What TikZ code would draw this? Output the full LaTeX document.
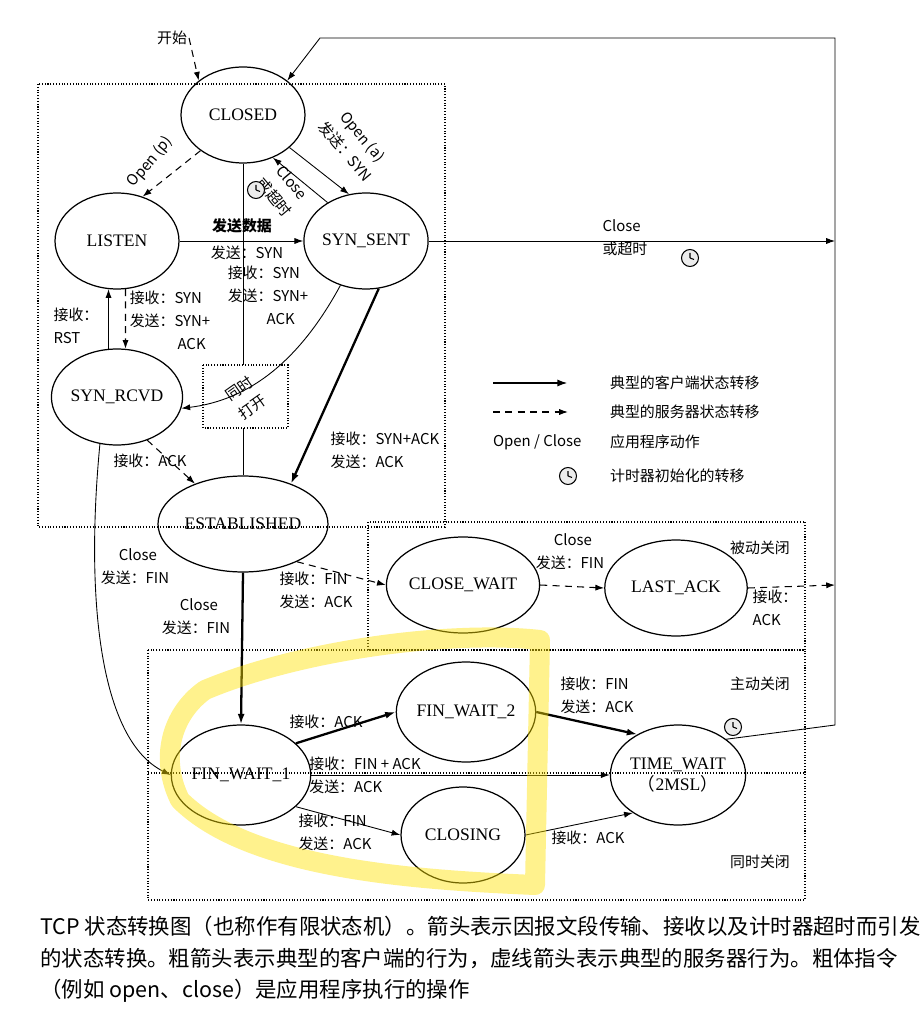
\documentclass[tikz,border=0pt]{standalone}
\usepackage{fontspec}
\setmainfont{Liberation Serif}
\newfontfamily\cjk{Noto Sans CJK SC}
\XeTeXlinebreaklocale "zh"
\XeTeXlinebreakskip=0pt plus 1pt
\usetikzlibrary{shapes.geometric, arrows.meta, positioning, calc}
\tikzset{
  state/.style={draw, ellipse, line width=0.7pt, minimum width=2.48cm, minimum height=1.92cm, inner sep=0pt, font=\fontsize{10}{12}\selectfont},
  lbl/.style={font=\cjk\fontsize{8.5}{13}\selectfont, align=left, inner sep=1pt},
  captxt/.style={font=\cjk\fontsize{12.2}{18}\selectfont, align=left, inner sep=0pt},
  thin/.style={-{Latex[length=5pt,width=3.5pt]}, line width=0.5pt},
  thick/.style={-{Latex[length=6pt,width=4pt]}, line width=1.3pt},
  dashy/.style={-{Latex[length=5pt,width=3.5pt]}, line width=0.6pt, dash pattern=on 4pt off 3pt},
  region/.style={densely dotted, line width=0.6pt},
  clock/.style={circle, draw, line width=0.6pt, minimum size=0.34cm, inner sep=0pt, fill=gray!15}
}
\newcommand{\clockhands}[1]{\draw[line width=0.6pt] (#1.center) -- ++(0,-5) (#1.center) -- ++(4,1.5);}
\begin{document}
\begin{tikzpicture}[x=0.02cm, y=-0.02cm]
  \useasboundingbox (0,0) rectangle (920,1016);

  % regions
  \draw[region] (38,84) rectangle (445,527);
  \draw[region] (203,365) rectangle (288,428);
  \draw[region] (368,522) rectangle (805,650);
  \draw[region] (148,650) rectangle (805,900);
  \draw[region] (148,773) -- (805,773);

  % states
  \node[state] (closed) at (243,115) {CLOSED};
  \node[state] (listen) at (117,241) {LISTEN};
  \node[state] (synsent) at (366,241) {SYN\_SENT};
  \node[state] (synrcvd) at (117,397) {SYN\_RCVD};
  \node[state, minimum width=3.4cm] (estab) at (243,524) {ESTABLISHED};
  \node[state, minimum width=2.8cm] (closewait) at (463,585) {CLOSE\_WAIT};
  \node[state, minimum width=2.85cm] (lastack) at (676,588) {LAST\_ACK};
  \node[state, minimum height=2cm] (fw2) at (466,712) {FIN\_WAIT\_2};
  \node[state, minimum height=2cm] (fw1) at (241,775) {FIN\_WAIT\_1};
  \node[state] (closing) at (463,835) {CLOSING};
  \node[state, minimum height=2cm, align=center] (timewait) at (678,775) {TIME\_WAIT\\{\cjk（}2MSL{\cjk）}};

  % helper points
  \coordinate (loopA) at (835,725);
  \coordinate (loopB) at (835,38);
  \coordinate (loopC) at (320,38);
  \coordinate (ssout) at (835,241);
  \coordinate (laout) at (835,585);
  \coordinate (boxtop) at (243,365);
  \coordinate (boxbot) at (243,428);

  % open part
  \node[lbl] (kaishi) at (172,38) {开始};
  \draw[dashy] (kaishi.east) -- (closed.north west);
  \draw[thin] (timewait.north east) -- (loopA) -- (loopB) -- (loopC) -- (closed.north east);
  \draw[line width=0.5pt] (closed.south) -- (boxtop);
  \draw[line width=0.5pt] (boxbot) -- (estab.north);
  \draw[dashy] (closed.220) -- (listen.60);
  \node[lbl, rotate=50] (openp) at (150,162) {Open (p)};
  \draw[thin] (closed.-35) -- (synsent.110);
  \node[lbl, rotate=-50, align=center] (opena) at (354,144) {Open (a)\\发送：SYN};
  \draw[thin] (synsent.135) -- (closed.-55);
  \node[lbl, rotate=-50, align=center] (closeto) at (283,190) {Close\\或超时};
  \node[clock] (clk1) at (256,190) {};
  \draw[thin] (listen.east) -- (synsent.west);
  \node[lbl] (fsdata) at (242,226) {\bfseries 发送数据};
  \node[lbl] (fssyn) at (247,253) {发送：SYN};
  \node[lbl] (rcvsyn) at (268,295) {接收：SYN\\发送：SYN+\\\hspace{2.6em}ACK};
  \draw[thin] (synsent.east) -- (ssout);
  \node[lbl] (closeto2) at (625,238) {Close\\或超时};
  \node[clock] (clk2) at (690,258) {};
  \draw[dashy] (listen.-80) -- (synrcvd.80);
  \draw[thin] (synrcvd.100) -- (listen.-100);
  \node[lbl] (rcvrst) at (76,326) {接收：\\RST};
  \node[lbl] (rcvsyn2) at (170,320) {接收：SYN\\发送：SYN+\\\hspace{3.2em}ACK};
  \draw[thin] (synsent.-120) .. controls (300,360) and (250,400) .. (synrcvd.-10);
  \node[lbl, rotate=35, align=center] (simopen) at (246,398) {同时\\打开};
  \draw[thick] (synsent.-75) -- (estab.40);
  \node[lbl] (synack) at (385,450) {接收：SYN+ACK\\发送：ACK};
  \draw[dashy] (synrcvd.-55) -- (estab.140);
  \node[lbl] (rcvack) at (150,461) {接收：ACK};

  % close part
  \draw[thin] (synrcvd.-110) .. controls (85,600) and (100,740) .. (fw1.west);
  \node[lbl] (closefin) at (135,567) {\hspace{1.2em}Close\\发送：FIN};
  \draw[thick] (estab.south) -- (fw1.north);
  \node[lbl] (closefin2) at (196,617) {\hspace{1.2em}Close\\发送：FIN};
  \draw[dashy] (estab.-35) -- (closewait.west);
  \node[lbl] (rcvfin) at (316,590) {接收：FIN\\发送：ACK};
  \draw[dashy] (closewait.east) -- (lastack.west);
  \node[lbl] (closefin3) at (570,552) {\hspace{1.2em}Close\\发送：FIN};
  \draw[dashy] (lastack.east) -- (laout);
  \node[lbl] (rcvack2) at (775,608) {接收：\\ACK};
  \node[lbl] (pclose) at (760,548) {被动关闭};
  \node[lbl] (aclose) at (760,684) {主动关闭};
  \node[lbl] (sclose) at (760,862) {同时关闭};
  \draw[thick] (fw1.30) -- (fw2.west);
  \node[lbl] (rcvack3) at (326,722) {接收：ACK};
  \draw[thin] (fw1.east) -- (timewait.west);
  \node[lbl] (finack) at (365,775) {接收：FIN + ACK\\发送：ACK};
  \draw[thin] (fw1.-30) -- (closing.west);
  \node[lbl] (rcvfin2) at (335,832) {接收：FIN\\发送：ACK};
  \draw[thick] (fw2.east) -- (timewait.135);
  \node[lbl] (rcvfin3) at (597,695) {接收：FIN\\发送：ACK};
  \draw[thin] (closing.east) -- (timewait.-140);
  \node[lbl] (rcvack4) at (588,838) {接收：ACK};
  \node[clock] (clk3) at (733,727) {};

  % legend
  \coordinate (lg1a) at (493,383); \coordinate (lg1b) at (568,383);
  \coordinate (lg2a) at (493,412); \coordinate (lg2b) at (568,412);
  \draw[thick] (lg1a) -- (lg1b);
  \draw[dashy] (lg2a) -- (lg2b);
  \node[lbl, anchor=west] (lgt1) at (608,383) {典型的客户端状态转移};
  \node[lbl, anchor=west] (lgt2) at (608,412) {典型的服务器状态转移};
  \node[lbl, anchor=west] (lgoc) at (491,442) {Open / Close};
  \node[lbl, anchor=west] (lgt3) at (608,442) {应用程序动作};
  \node[clock] (clk4) at (568,476) {};
  \node[lbl, anchor=west] (lgt4) at (608,476) {计时器初始化的转移};
  \foreach \c in {clk1, clk2, clk3, clk4} {\clockhands{\c}}

  % highlight
  \draw[yellow!85!orange, opacity=0.45, line width=0.4cm, line cap=round, line join=round]
    (205,690) .. controls (300,650) and (450,630) .. (540,640) -- (535,885)
    .. controls (420,880) and (250,870) .. (180,800) .. controls (160,760) and (170,715) .. (205,690);

  % caption
  \node[captxt, anchor=north west] (caption) at (40,916)
    {TCP 状态转换图（也称作有限状态机）。箭头表示因报文段传输、接收以及计时器超时而引发\\的状态转换。粗箭头表示典型的客户端的行为，虚线箭头表示典型的服务器行为。粗体指令\\（例如 open、close）是应用程序执行的操作};
\end{tikzpicture}
\end{document}
